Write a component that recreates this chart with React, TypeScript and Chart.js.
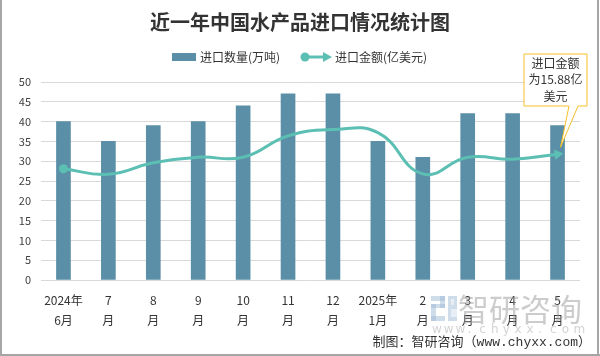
import React, { useEffect, useRef } from 'react';
import { Chart, registerables } from 'chart.js';

Chart.register(...registerables);

const categories: string[][] = [
  ['2024年', '6月'], ['7', '月'], ['8', '月'], ['9', '月'], ['10', '月'], ['11', '月'],
  ['12', '月'], ['2025年', '1月'], ['2', '月'], ['3', '月'], ['4', '月'], ['5', '月'],
];
const importVolume = [40, 35, 39, 40, 44, 47, 47, 35, 31, 42, 42, 39];
const importValue = [14.05, 13.35, 14.8, 15.5, 15.5, 18.2, 19.0, 18.6, 13.4, 15.5, 15.25, 15.88];
const seriesNames = ['进口数量(万吨)', '进口金额(亿美元)'];
const titleText = '近一年中国水产品进口情况统计图';
const calloutLines = ['进口金额', '为15.88亿', '美元'];
const footerText = '制图：智研咨询（www.chyxx.com）';

const BAR_COLOR = '#5b8fa7';
const LINE_COLOR = '#5cbfb3';
const TEXT = '#333333';
const CJK = '"Noto Sans CJK SC", "Noto Sans", sans-serif';

const n = importValue.length;
const pointRadii = importValue.map((_, i) => (i === 0 ? 4.5 : i === n - 1 ? 6 : 0));
const pointStyles = importValue.map((_, i) => (i === n - 1 ? 'triangle' : 'circle'));
const pointRotations = importValue.map((_, i) => (i === n - 1 ? 82 : 0));

const decorPlugin = {
  id: 'decor',
  beforeDraw(chart: any) {
    const ctx = chart.ctx;
    ctx.save();
    ctx.fillStyle = '#ffffff';
    ctx.fillRect(0, 0, chart.width, chart.height);
    ctx.restore();
  },
  afterDraw(chart: any) {
    const ctx = chart.ctx;
    ctx.save();
    // title
    ctx.fillStyle = TEXT;
    ctx.font = `bold 20px ${CJK}`;
    ctx.textAlign = 'center';
    ctx.textBaseline = 'middle';
    ctx.fillText(titleText, 300, 22);

    // legend
    ctx.font = `12px ${CJK}`;
    ctx.textAlign = 'left';
    ctx.fillStyle = BAR_COLOR;
    ctx.fillRect(172, 53, 24, 8);
    ctx.fillStyle = TEXT;
    ctx.fillText(seriesNames[0], 200, 57);
    ctx.strokeStyle = LINE_COLOR;
    ctx.fillStyle = LINE_COLOR;
    ctx.lineWidth = 3;
    ctx.beginPath();
    ctx.moveTo(304, 57);
    ctx.lineTo(325, 57);
    ctx.stroke();
    ctx.beginPath();
    ctx.arc(305, 57, 4.5, 0, Math.PI * 2);
    ctx.fill();
    ctx.beginPath();
    ctx.moveTo(332, 57);
    ctx.lineTo(323, 52);
    ctx.lineTo(323, 62);
    ctx.closePath();
    ctx.fill();
    ctx.fillStyle = TEXT;
    ctx.fillText(seriesNames[1], 335, 57);

    // watermark
    ctx.globalAlpha = 0.5;
    ctx.fillStyle = '#9fb9d6';
    ctx.fillRect(431, 296, 14, 5);
    ctx.fillRect(440, 296, 5, 12);
    ctx.fillRect(431, 304, 14, 4);
    ctx.fillRect(431, 304, 5, 17);
    ctx.fillRect(431, 316, 14, 5);
    ctx.fillRect(448, 296, 9, 25);
    ctx.fillStyle = '#ffffff';
    ctx.fillRect(451, 299, 3, 6);
    ctx.fillRect(451, 309, 6, 8);
    ctx.fillStyle = '#9a9a9a';
    ctx.font = `31px ${CJK}`;
    ctx.textBaseline = 'middle';
    ctx.fillText('智研咨询', 458, 309);
    ctx.font = `12px "DejaVu Sans", sans-serif`;
    ctx.fillStyle = '#a8a8a8';
    const url = 'www.chyxx.com';
    for (let i = 0; i < url.length; i++) {
      ctx.fillText(url[i], 432 + i * 11.8, 330);
    }
    ctx.globalAlpha = 1;

    // footer
    ctx.fillStyle = TEXT;
    ctx.font = `13px "Liberation Mono", ${CJK}`;
    ctx.textAlign = 'right';
    ctx.fillText(footerText, 591, 343);

    // callout
    const meta = chart.getDatasetMeta(1);
    const last = meta.data[meta.data.length - 1];
    const tipX = last.x + 3;
    const tipY = last.y - 7;
    const bx = 524, by = 54, bw = 63, bh = 52;
    ctx.beginPath();
    ctx.moveTo(bx, by);
    ctx.lineTo(bx + bw, by);
    ctx.lineTo(bx + bw, by + bh);
    ctx.lineTo(578, by + bh);
    ctx.lineTo(tipX, tipY);
    ctx.lineTo(569, by + bh);
    ctx.lineTo(bx, by + bh);
    ctx.closePath();
    ctx.fillStyle = '#ffffff';
    ctx.fill();
    ctx.strokeStyle = '#f5c02c';
    ctx.lineWidth = 1;
    ctx.stroke();
    ctx.fillStyle = TEXT;
    ctx.font = `12px ${CJK}`;
    ctx.textAlign = 'center';
    calloutLines.forEach((t, i) => ctx.fillText(t, bx + bw / 2, 63 + i * 16.5));

    // border
    ctx.fillStyle = '#a6a6a6';
    ctx.fillRect(0, 0, 2, 356);
    ctx.fillRect(597, 0, 2, 356);
    ctx.fillRect(0, 354, 600, 2);
    ctx.restore();
  },
};

export default function App() {
  const ref = useRef<HTMLCanvasElement | null>(null);
  useEffect(() => {
    document.body.style.margin = '0';
    const chart = new Chart(ref.current as HTMLCanvasElement, {
      type: 'bar',
      data: {
        labels: categories,
        datasets: [
          {
            type: 'bar',
            label: seriesNames[0],
            data: importVolume,
            backgroundColor: BAR_COLOR,
            barThickness: 14,
            yAxisID: 'y',
            order: 2,
          },
          {
            type: 'line',
            label: seriesNames[1],
            data: importValue,
            borderColor: LINE_COLOR,
            backgroundColor: LINE_COLOR,
            borderWidth: 3,
            tension: 0.45,
            pointRadius: pointRadii,
            pointHoverRadius: pointRadii,
            pointStyle: pointStyles as any,
            rotation: pointRotations,
            pointBorderWidth: 0,
            yAxisID: 'y1',
            order: 1,
          } as any,
        ],
      },
      options: {
        responsive: false,
        animation: false,
        devicePixelRatio: 1,
        layout: { padding: { top: 82, right: 20, left: 0, bottom: 0 } },
        plugins: {
          legend: { display: false },
          title: { display: false },
          tooltip: { enabled: false },
        },
        scales: {
          x: {
            grid: { display: false, drawTicks: false },
            border: { display: false },
            ticks: {
              color: TEXT,
              font: { size: 12, family: CJK, lineHeight: 1.67 },
              padding: 10,
              maxRotation: 0,
              autoSkip: false,
            },
            afterFit(scale: any) {
              scale.height = 76;
            },
          },
          y: {
            min: 0,
            max: 50,
            ticks: {
              stepSize: 5,
              color: '#404040',
              font: { size: 11, family: CJK },
              padding: 10,
            },
            grid: { color: '#d9d9d9', drawTicks: false, lineWidth: 1 },
            border: { display: false },
            afterFit(scale: any) {
              scale.width = 41;
            },
          },
          y1: {
            min: 0,
            max: 25,
            display: false,
            position: 'right',
          },
        },
      } as any,
      plugins: [decorPlugin],
    });
    return () => chart.destroy();
  }, []);
  return (
    <div style={{ width: 600, height: 356 }}>
      <canvas ref={ref} width={600} height={356} style={{ display: 'block' }} />
    </div>
  );
}
